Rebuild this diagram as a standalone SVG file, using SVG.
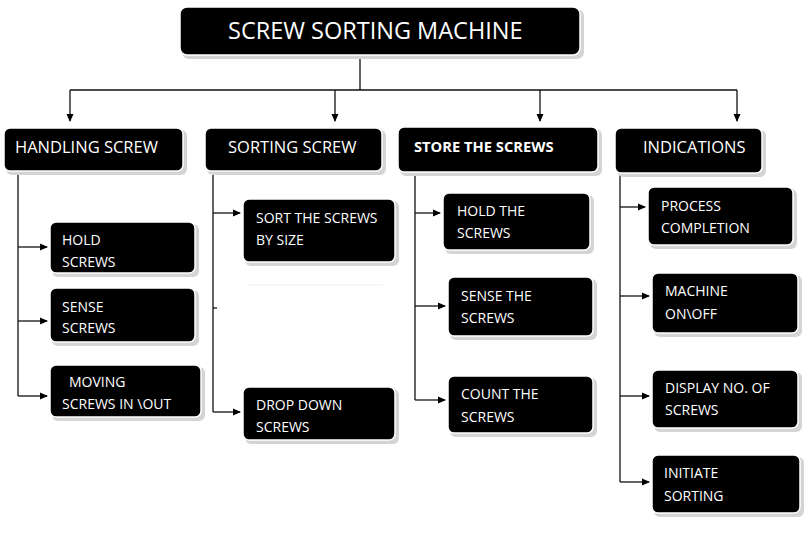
<svg xmlns="http://www.w3.org/2000/svg" width="808" height="545" viewBox="0 0 808 545">
<style>
.box{fill:#000;stroke:#fff;stroke-width:1.5}
.sh{fill:#d4d4d4}
.t{fill:#fff;font-family:"Open Sans","Liberation Sans",sans-serif}
.h{font-size:16.5px}
.s{font-size:14px}
.ln{stroke:#111;stroke-width:1.3;fill:none}
</style>
<defs>
<marker id="ah" markerWidth="8" markerHeight="8" refX="7" refY="4" orient="auto" markerUnits="userSpaceOnUse">
<path d="M0,0.5 L8,4 L0,7.5 Z" fill="#000"/>
</marker>
</defs>
<rect width="808" height="545" fill="#fff"/>
<g id="connectors">
<path class="ln" d="M360,55 V90 M70,90 H737"/>
<path class="ln" d="M70,90 V121" marker-end="url(#ah)"/>
<path class="ln" d="M335,90 V121" marker-end="url(#ah)"/>
<path class="ln" d="M540,90 V121" marker-end="url(#ah)"/>
<path class="ln" d="M737,90 V121" marker-end="url(#ah)"/>
<path class="ln" d="M18,171 V396"/>
<path class="ln" d="M18,247 H47" marker-end="url(#ah)"/>
<path class="ln" d="M18,321 H47" marker-end="url(#ah)"/>
<path class="ln" d="M18,396 H47" marker-end="url(#ah)"/>
<path class="ln" d="M213,175 V412"/>
<path class="ln" d="M213,213 H240" marker-end="url(#ah)"/>
<path class="ln" d="M213,412 H240" marker-end="url(#ah)"/>
<path class="ln" d="M213,308 H217"/>
<path class="ln" d="M415,172 V400"/>
<path class="ln" d="M415,213 H440" marker-end="url(#ah)"/>
<path class="ln" d="M415,306 H445" marker-end="url(#ah)"/>
<path class="ln" d="M415,400 H445" marker-end="url(#ah)"/>
<path class="ln" d="M620,173 V482"/>
<path class="ln" d="M620,207 H645" marker-end="url(#ah)"/>
<path class="ln" d="M620,296 H649" marker-end="url(#ah)"/>
<path class="ln" d="M620,396 H649" marker-end="url(#ah)"/>
<path class="ln" d="M620,482 H649" marker-end="url(#ah)"/>
<path d="M247,285 H383" stroke="#eee" stroke-width="1"/>
</g>
<g id="title">
<rect class="sh" x="182" y="9" width="402" height="50" rx="7"/>
<rect class="box" x="180" y="7" width="400" height="48" rx="7"/>
<text class="t" x="228" y="39" font-size="23.5">SCREW SORTING MACHINE</text>
</g>
<g id="handling">
<rect class="sh" x="6" y="130" width="181" height="45" rx="6"/>
<rect class="box" x="4" y="128" width="179" height="43" rx="6"/>
<text class="t h" x="15" y="153">HANDLING SCREW</text>
</g>
<g id="sorting">
<rect class="sh" x="207" y="130" width="179" height="45" rx="6"/>
<rect class="box" x="205" y="128" width="177" height="43" rx="6"/>
<text class="t h" x="228" y="153">SORTING SCREW</text>
</g>
<g id="store">
<rect class="sh" x="400" y="129" width="202" height="47" rx="6"/>
<rect class="box" x="398" y="127" width="200" height="45" rx="6"/>
<text class="t" x="414" y="152" font-size="14.7" font-weight="bold" fill="#e8e8e8">STORE THE SCREWS</text>
</g>
<g id="indications">
<rect class="sh" x="617" y="130" width="149" height="47" rx="6"/>
<rect class="box" x="615" y="128" width="147" height="45" rx="6"/>
<text class="t" x="643" y="153" font-size="16.5">INDICATIONS</text>
</g>
<g id="hold-screws">
<rect class="sh" x="52" y="224" width="147" height="53" rx="6"/>
<rect class="box" x="50" y="222" width="145" height="51" rx="6"/>
<text class="t s" x="62" y="245">HOLD</text>
<text class="t s" x="62" y="267">SCREWS</text>
</g>
<g id="sense-screws">
<rect class="sh" x="52" y="290" width="147" height="56" rx="6"/>
<rect class="box" x="50" y="288" width="145" height="54" rx="6"/>
<text class="t s" x="62" y="312">SENSE</text>
<text class="t s" x="62" y="333">SCREWS</text>
</g>
<g id="moving-screws">
<rect class="sh" x="52" y="367" width="153" height="54" rx="6"/>
<rect class="box" x="50" y="365" width="151" height="52" rx="6"/>
<text class="t s" x="69" y="387">MOVING</text>
<text class="t s" x="62" y="409">SCREWS IN \OUT</text>
</g>
<g id="sort-by-size">
<rect class="sh" x="245" y="201" width="154" height="65" rx="6"/>
<rect class="box" x="243" y="199" width="152" height="63" rx="6"/>
<text class="t s" x="256" y="223">SORT THE SCREWS</text>
<text class="t s" x="256" y="245">BY SIZE</text>
</g>
<g id="drop-down">
<rect class="sh" x="245" y="389" width="154" height="55" rx="6"/>
<rect class="box" x="243" y="387" width="152" height="53" rx="6"/>
<text class="t s" x="256" y="410">DROP DOWN</text>
<text class="t s" x="256" y="432">SCREWS</text>
</g>
<g id="hold-the-screws">
<rect class="sh" x="445" y="195" width="149" height="59" rx="6"/>
<rect class="box" x="443" y="193" width="147" height="57" rx="6"/>
<text class="t s" x="457" y="216">HOLD THE</text>
<text class="t s" x="457" y="238">SCREWS</text>
</g>
<g id="sense-the-screws">
<rect class="sh" x="450" y="279" width="147" height="61" rx="6"/>
<rect class="box" x="448" y="277" width="145" height="59" rx="6"/>
<text class="t s" x="461" y="301">SENSE THE</text>
<text class="t s" x="461" y="323">SCREWS</text>
</g>
<g id="count-the-screws">
<rect class="sh" x="450" y="378" width="147" height="59" rx="6"/>
<rect class="box" x="448" y="376" width="145" height="57" rx="6"/>
<text class="t s" x="461" y="399">COUNT THE</text>
<text class="t s" x="461" y="422">SCREWS</text>
</g>
<g id="process-completion">
<rect class="sh" x="650" y="189" width="147" height="60" rx="6"/>
<rect class="box" x="648" y="187" width="145" height="58" rx="6"/>
<text class="t s" x="661" y="211">PROCESS</text>
<text class="t s" x="661" y="233">COMPLETION</text>
</g>
<g id="machine-onoff">
<rect class="sh" x="654" y="275" width="148" height="62" rx="6"/>
<rect class="box" x="652" y="273" width="146" height="60" rx="6"/>
<text class="t s" x="665" y="296">MACHINE</text>
<text class="t s" x="665" y="319">ON\OFF</text>
</g>
<g id="display-no">
<rect class="sh" x="654" y="372" width="148" height="60" rx="6"/>
<rect class="box" x="652" y="370" width="146" height="58" rx="6"/>
<text class="t s" x="665" y="393">DISPLAY NO. OF</text>
<text class="t s" x="665" y="415">SCREWS</text>
</g>
<g id="initiate-sorting">
<rect class="sh" x="654" y="457" width="150" height="60" rx="6"/>
<rect class="box" x="652" y="455" width="148" height="58" rx="6"/>
<text class="t s" x="664" y="478">INITIATE</text>
<text class="t s" x="664" y="501">SORTING</text>
</g>
</svg>
